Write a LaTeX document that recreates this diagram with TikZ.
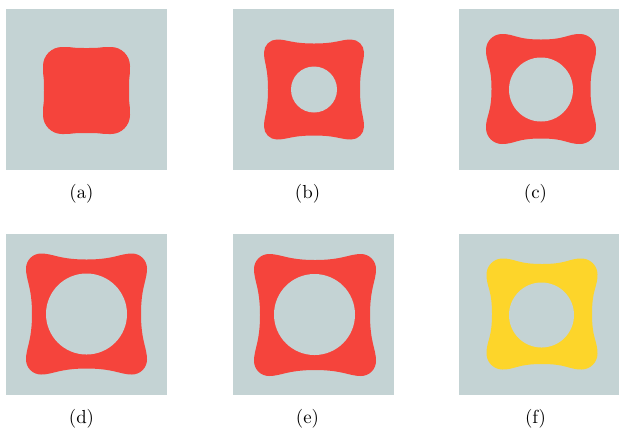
\documentclass[tikz,border=0pt]{standalone}
\usepackage{tikz}

\definecolor{panelgray}{HTML}{C4D3D4}
\definecolor{phasered}{HTML}{F5443C}
\definecolor{phaseyellow}{HTML}{FDD52A}

% concave-sided rounded square around the current origin
% #1 = fill style, #2 = half size, #3 = inset of the side middles, #4 = corner radius
\newcommand{\blob}[4]{%
  \fill[#1] (0,{-#2+#3})
    .. controls ({0.45*#2},{-#2+#3}) and ({#2-1.8*#4},-#2) .. ({#2-#4},-#2)
    .. controls ({#2-0.45*#4},-#2) and (#2,{-#2+0.45*#4}) .. (#2,{-#2+#4})
    .. controls (#2,{-#2+1.8*#4}) and ({#2-#3},{-0.45*#2}) .. ({#2-#3},0)
    .. controls ({#2-#3},{0.45*#2}) and (#2,{#2-1.8*#4}) .. (#2,{#2-#4})
    .. controls (#2,{#2-0.45*#4}) and ({#2-0.45*#4},#2) .. ({#2-#4},#2)
    .. controls ({#2-1.8*#4},#2) and ({0.45*#2},{#2-#3}) .. (0,{#2-#3})
    .. controls ({-0.45*#2},{#2-#3}) and ({-#2+1.8*#4},#2) .. ({-#2+#4},#2)
    .. controls ({-#2+0.45*#4},#2) and (-#2,{#2-0.45*#4}) .. (-#2,{#2-#4})
    .. controls (-#2,{#2-1.8*#4}) and ({-#2+#3},{0.45*#2}) .. ({-#2+#3},0)
    .. controls ({-#2+#3},{-0.45*#2}) and (-#2,{-#2+1.8*#4}) .. (-#2,{-#2+#4})
    .. controls (-#2,{-#2+0.45*#4}) and ({-#2+0.45*#4},-#2) .. ({-#2+#4},-#2)
    .. controls ({-#2+1.8*#4},-#2) and ({-0.45*#2},{-#2+#3}) .. cycle;
}

\begin{document}
\begin{tikzpicture}[
    x=0.53pt, y=-0.53pt,
    panel/.style={fill=panelgray},
    redphase/.style={fill=phasered},
    yellowphase/.style={fill=phaseyellow},
    caption/.style={anchor=base, inner sep=0pt}
]
    \useasboundingbox (0,0) rectangle (619,431);

    % ── Fonds gris des six vignettes ──
    \fill[panel] (5.5,8.5)   rectangle ++(161.5,161.5);
    \fill[panel] (232.5,8.5) rectangle ++(161.5,161.5);
    \fill[panel] (458.5,8.5) rectangle ++(161.5,161.5);
    \fill[panel] (5.5,233.5)   rectangle ++(161.5,161.5);
    \fill[panel] (232.5,233.5) rectangle ++(161.5,161.5);
    \fill[panel] (458.5,233.5) rectangle ++(161.5,161.5);

    % ── (a) : carré arrondi plein ──
    \begin{scope}[shift={(86.5,90.5)}]
        \blob{redphase}{43.5}{1}{19}
    \end{scope}

    % ── (b) à (f) : formes trouées ──
    \begin{scope}[shift={(314,89.5)}]
        \blob{redphase}{50}{4}{13}
        \fill[panel] (0,0) circle (23);
    \end{scope}
    \begin{scope}[shift={(541,89)}]
        \blob{redphase}{55}{5.5}{16}
        \fill[panel] (0,0.5) circle (32);
    \end{scope}
    \begin{scope}[shift={(86.5,314)}]
        \blob{redphase}{60.5}{6}{15}
        \fill[panel] (0,0) circle (40.5);
    \end{scope}
    \begin{scope}[shift={(315,315)}]
        \blob{redphase}{61}{6}{15}
        \fill[panel] (-0.5,-0.5) circle (40.5);
    \end{scope}
    \begin{scope}[shift={(542,314)}]
        \blob{yellowphase}{55.5}{5.5}{16}
        \fill[panel] (-0.5,1) circle (32.5);
    \end{scope}

    % ── Légendes ──
    \node[caption] (capa) at (81.5,198.5)  {(a)};
    \node[caption] (capb) at (307.5,198.5) {(b)};
    \node[caption] (capc) at (535.5,198.5) {(c)};
    \node[caption] (capd) at (81.5,423)    {(d)};
    \node[caption] (cape) at (307.5,423)   {(e)};
    \node[caption] (capf) at (535.5,423)   {(f)};

\end{tikzpicture}
\end{document}
